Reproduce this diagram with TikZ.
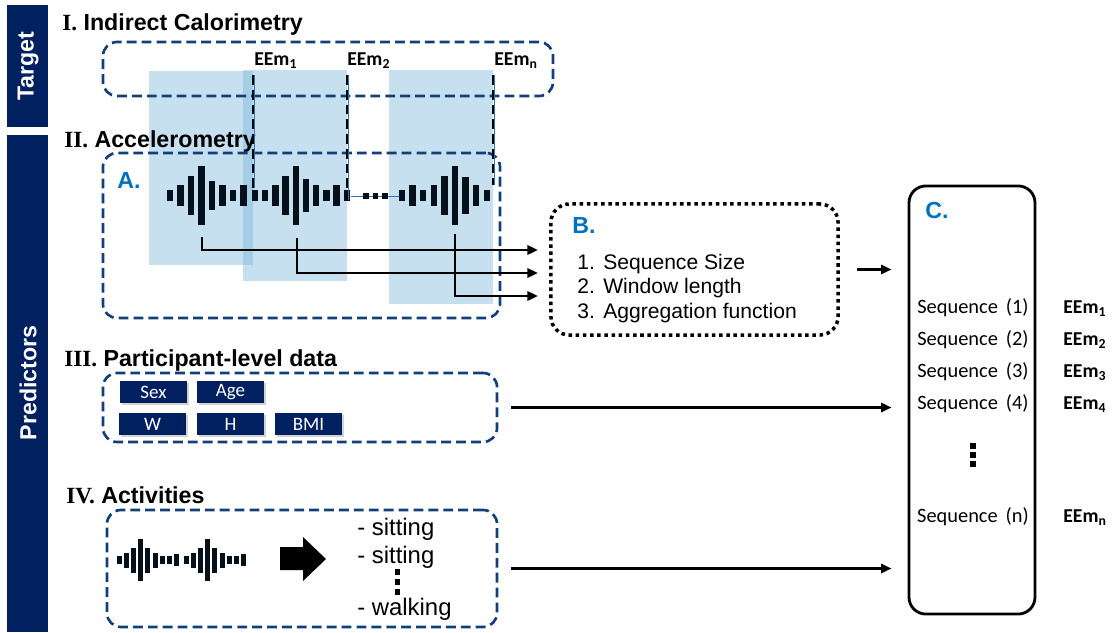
\documentclass[tikz,border=0pt]{standalone}
\usepackage{fontspec}
\setmainfont{Liberation Sans}
\newfontfamily\calfont{Carlito}
\newfontfamily\romfont{Liberation Serif}
\usetikzlibrary{arrows.meta,shadows}

\definecolor{navy}{RGB}{0,32,96}
\definecolor{boxblue}{RGB}{18,62,122}
\definecolor{lblue}{RGB}{107,174,214}
\definecolor{labblue}{RGB}{0,112,192}
\definecolor{wavecol}{RGB}{6,16,26}
\definecolor{lineblue}{RGB}{46,117,182}

% bars of a signal: x0, y, step, bar width, heights
\newcommand{\wavebars}[5]{%
  \foreach \h [count=\i from 0] in {#5}
    \fill[wavecol] ({#1+\i*#3-#4/2},{#2-\h/2}) rectangle ({#1+\i*#3+#4/2},{#2+\h/2});
}

\tikzset{
  dbox/.style={draw=boxblue, line width=1.9pt, dash pattern=on 7pt off 3.6pt, rounded corners=10pt},
  heading/.style={anchor=base west, inner sep=0pt, font=\fontsize{16.5}{20}\selectfont\bfseries},
  letter/.style={anchor=base west, inner sep=0pt, text=labblue, font=\fontsize{16.5}{20}\selectfont\bfseries},
  eem/.style={anchor=base west, inner sep=0pt, font=\calfont\fontsize{14}{16}\selectfont\bfseries},
  seq/.style={anchor=base, inner sep=0pt, font=\calfont\fontsize{14.5}{17}\selectfont},
  item/.style={anchor=base west, inner sep=0pt, font=\fontsize{15}{18}\selectfont},
  act/.style={anchor=base west, inner sep=0pt, font=\fontsize{17}{20}\selectfont},
  var/.style={fill=navy, text=white, minimum width=1.65cm, minimum height=0.56cm, inner sep=0pt,
    font=\calfont\fontsize{13.5}{15}\selectfont,
    drop shadow={shadow xshift=0.05cm, shadow yshift=-0.05cm, opacity=0.35}},
  side/.style={text=white, rotate=90, inner sep=0pt, font=\fontsize{16.5}{20}\selectfont\bfseries},
  arr/.style={line width=1.8pt, -{Triangle[length=7.5pt,width=6.5pt]}},
  vdash/.style={line width=1.6pt, dash pattern=on 7pt off 3.5pt}
}

\begin{document}
\begin{tikzpicture}[x=0.025cm, y=-0.025cm]
\useasboundingbox (0,0) rectangle (1112,632);

% side bars
\fill[navy] (7,5) rectangle (48,127);
\fill[navy] (7,135) rectangle (48,632);
\node[side] (target) at (28,66) {Target};
\node[side] (pred) at (28,383) {Predictors};

% windows
\fill[lblue, fill opacity=0.38] (149,71) rectangle (253,265);
\fill[lblue, fill opacity=0.38] (243,70) rectangle (347,281);
\fill[lblue, fill opacity=0.38] (389,70) rectangle (493,304);

% I. target
\node[heading] (h1) at (62,30) {{\romfont I.} Indirect Calorimetry};
\node[dbox, minimum width=11.25cm, minimum height=1.35cm] (tgt) at (328,69) {};
\node[eem] (em1) at (254,65) {EEm\textsubscript{1}};
\node[eem] (em2) at (347,65) {EEm\textsubscript{2}};
\node[eem] (emn) at (494,65) {EEm\textsubscript{n}};

% II. accelerometry
\node[heading] (h2) at (64,147) {{\romfont II.} Accelerometry};
\node[dbox, minimum width=9.925cm, minimum height=4.125cm] (acc) at (301.5,235.5) {};
\node[letter] (la) at (117,188) {A.};
\draw[lineblue, thin] (351,196) -- (402,196);
\wavebars{170}{195}{10.5}{6.5}{11,21,39,59,29,21,11,21}
\wavebars{255}{195}{10.2}{6.5}{11,11,21,39,59,33,21,11,21,11}
\wavebars{402}{195}{10.6}{6.5}{11,21,11,21,39,59,37,21,11}
\fill[wavecol] (363,193) rectangle (368.5,198.5);
\fill[wavecol] (372.5,193) rectangle (378,198.5);
\fill[wavecol] (382,193) rectangle (387.5,198.5);
\draw[lineblue, thin] (254.5,75) -- (254.5,188);
\draw[lineblue, thin] (348.5,75) -- (348.5,200);
\draw[lineblue, thin] (494.5,75) -- (494.5,185);
\draw[vdash] (253,75) -- (253,188);
\draw[vdash] (347,75) -- (347,200);
\draw[vdash] (493,75) -- (493,185);

% B.
\node[draw, line width=2.5pt, dash pattern=on 2.5pt off 2.6pt, rounded corners=13pt,
  minimum width=7.175cm, minimum height=3.275cm] (bbox) at (694.5,269.5) {};
\node[letter] (lb) at (572,233) {B.};
\node[item] (b1) at (577,269) {\makebox[0.65cm][l]{1.}Sequence Size};
\node[item] (b2) at (577,293) {\makebox[0.65cm][l]{2.}Window length};
\node[item] (b3) at (577,318) {\makebox[0.65cm][l]{3.}Aggregation function};

\coordinate (s1) at (202,237);
\coordinate (s2) at (297,238);
\coordinate (s3) at (455,234);
\coordinate (e1) at (538,250);
\coordinate (e2) at (538,273);
\coordinate (e3) at (538,296);
\draw[arr] (s1) |- (e1);
\draw[arr] (s2) |- (e2);
\draw[arr] (s3) |- (e3);

% III. participant data
\node[heading] (h3) at (64,366) {{\romfont III.} Participant-level data};
\node[dbox, minimum width=9.85cm, minimum height=1.725cm] (part) at (300,407.5) {};
\node[var] (sex) at (153.5,392) {Sex};
\node[var] (age) at (230.5,392) {Age};
\node[var] (w) at (152.5,424) {W};
\node[var] (hgt) at (230.5,424) {H};
\node[var] (bmi) at (308.5,424) {BMI};

% IV. activities
\node[heading] (h4) at (66,503) {{\romfont IV.} Activities};
\node[dbox, minimum width=9.75cm, minimum height=2.925cm] (actb) at (302,568.5) {};
\wavebars{119}{560}{7.2}{5}{8,15,25,42,25,15,8,8,12}
\wavebars{186}{560}{7.2}{5}{8,15,25,42,25,15,8,8,12}
\fill (280,547) -- (303,547) -- (303,537) -- (326,559) -- (303,581) -- (303,570) -- (280,570) -- cycle;
\node[act] (a1) at (357,535) {- sitting};
\node[act] (a2) at (357,563) {- sitting};
\node[act] (a3) at (357,615) {- walking};
\fill (394.5,569) rectangle (399.5,575);
\fill (394.5,579) rectangle (399.5,585);
\fill (394.5,589) rectangle (399.5,595);

% C.
\node[draw, line width=2pt, rounded corners=12pt, minimum width=3.15cm, minimum height=10.7cm] (cbox) at (972,400) {};
\node[letter] (lc) at (925,218) {C.};
\node[seq] (q1) at (973,313) {Sequence\ \,(1)};
\node[seq] (q2) at (973,345) {Sequence\ \,(2)};
\node[seq] (q3) at (973,377) {Sequence\ \,(3)};
\node[seq] (q4) at (973,409) {Sequence\ \,(4)};
\node[seq] (qn) at (973,522) {Sequence\ \,(n)};
\fill (970,443) rectangle (976,449);
\fill (970,452) rectangle (976,458);
\fill (970,461) rectangle (976,467);
\node[eem] (r1) at (1063,313) {EEm\textsubscript{1}};
\node[eem] (r2) at (1063,345) {EEm\textsubscript{2}};
\node[eem] (r3) at (1063,377) {EEm\textsubscript{3}};
\node[eem] (r4) at (1063,409) {EEm\textsubscript{4}};
\node[eem] (rn) at (1063,522) {EEm\textsubscript{n}};

% into C.
\draw[arr] ([xshift=0.425cm]bbox.east) -- ([xshift=-0.4cm]cbox.west |- bbox.east);
\draw[arr] ([xshift=0.325cm]part.east) -- ([xshift=-0.4cm]cbox.west |- part.east);
\draw[arr] ([xshift=0.325cm]actb.east) -- ([xshift=-0.4cm]cbox.west |- actb.east);
\end{tikzpicture}
\end{document}
